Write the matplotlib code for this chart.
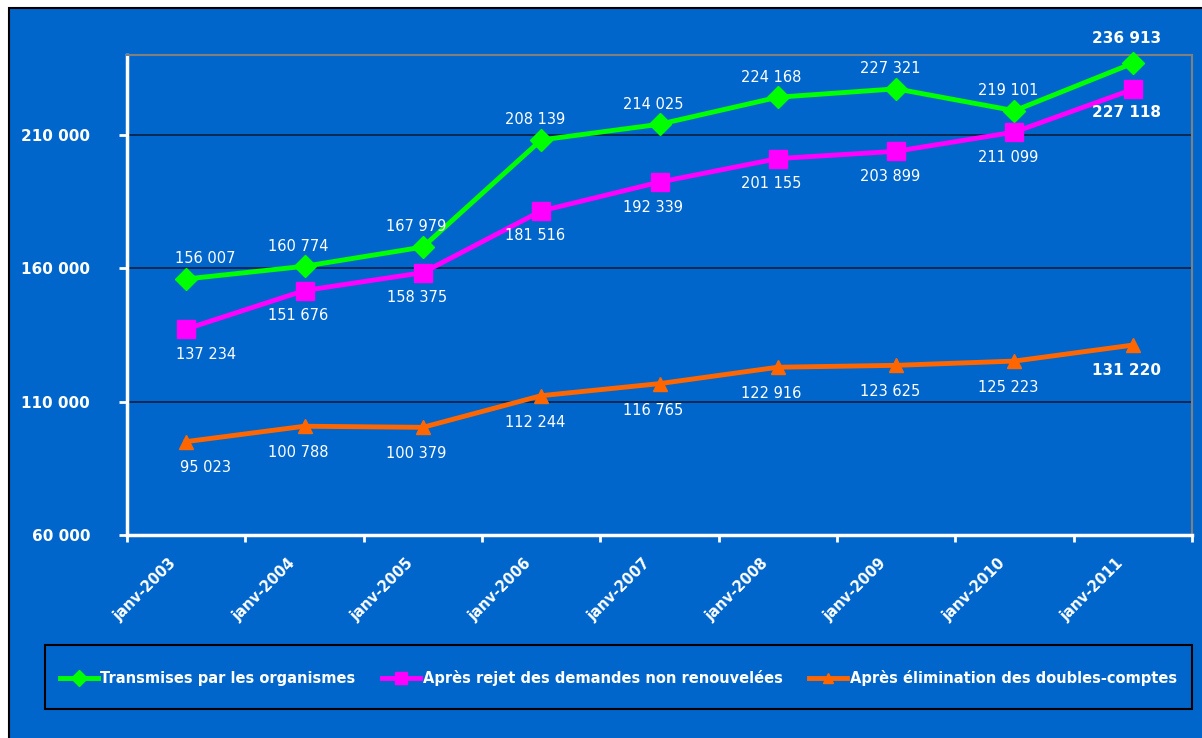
import matplotlib.pyplot as plt
from matplotlib.patches import Rectangle
from matplotlib.ticker import FixedLocator, FuncFormatter

categories = ["janv-2003", "janv-2004", "janv-2005", "janv-2006", "janv-2007",
              "janv-2008", "janv-2009", "janv-2010", "janv-2011"]
transmises = [156007, 160774, 167979, 208139, 214025, 224168, 227321, 219101, 236913]
apres_rejet = [137234, 151676, 158375, 181516, 192339, 201155, 203899, 211099, 227118]
apres_elim = [95023, 100788, 100379, 112244, 116765, 122916, 123625, 125223, 131220]
y_ticks = [60000, 110000, 160000, 210000]

BLUE = "#0066CC"
W, H = 1202, 738


def fmt(v):
    return f"{v:,}".replace(",", " ")


fig = plt.figure(figsize=(W / 100, H / 100), dpi=100, facecolor="white")
fig.patches.append(Rectangle((9 / W, -0.02), 1.0, 1.02 - 8 / H, transform=fig.transFigure,
                             facecolor=BLUE, edgecolor="black", linewidth=1.5, zorder=-10))
# legend frame
fig.patches.append(Rectangle((45 / W, 1 - 709 / H), (1192 - 45) / W, 64 / H,
                             transform=fig.transFigure, facecolor="none",
                             edgecolor="black", linewidth=1.5, zorder=-5))

ax = fig.add_axes([127 / W, 1 - 535 / H, (1192 - 127) / W, (535 - 55) / H])
ax.set_facecolor(BLUE)

x = list(range(len(categories)))
# values, colour, marker, size, label, vertical offset, offset of last label
series = [
    (transmises, "#00FF00", "D", 11, "Transmises par les organismes", 14.5, 18),
    (apres_rejet, "#FF00FF", "s", 12.5, "Après rejet des demandes non renouvelées", -18, -16.5),
    (apres_elim, "#FF6600", "^", 10.5, "Après élimination des doubles-comptes", -19, -18),
]
handles = []
for vals, col, mk, ms, lab, dy, dy_last in series:
    h, = ax.plot(x, vals, color=col, lw=3.5, marker=mk, ms=ms, label=lab,
                 markeredgecolor=col, zorder=3, clip_on=False)
    handles.append(h)
    for i, v in enumerate(vals):
        last = i == len(vals) - 1
        dx = 14 if i == 0 else -4.5
        ax.annotate(fmt(v), (i, v), xytext=(dx, dy_last if last else dy),
                    textcoords="offset points",
                    ha="center", va="center", color="white",
                    fontsize=11 if last else 10.5,
                    fontweight="bold" if last else "normal", zorder=4)

ax.set_xlim(-0.5, len(categories) - 0.5)
ax.set_ylim(60000, 240000)
ax.yaxis.set_major_locator(FixedLocator(y_ticks))
ax.yaxis.set_major_formatter(FuncFormatter(lambda v, p: fmt(int(v))))
ax.grid(axis="y", color="#0a1f40", lw=1.2)
ax.set_axisbelow(True)

ax.xaxis.set_major_locator(FixedLocator([i - 0.5 for i in range(len(categories) + 1)]))
ax.xaxis.set_major_formatter(FuncFormatter(lambda v, p: ""))
# labels sit slightly left of the category centre (invisible minor ticks)
ax.xaxis.set_minor_locator(FixedLocator([i - 0.1 for i in x]))
ax.set_xticklabels(categories, minor=True, rotation=45, ha="right", va="center",
                   rotation_mode="anchor", color="white", fontsize=10.5, fontweight="bold")
ax.tick_params(axis="x", which="minor", length=0, pad=19)
ax.tick_params(axis="x", which="major", length=5, width=2, color="white")
ax.tick_params(axis="y", length=6, width=2, color="white", labelcolor="white",
               labelsize=11, pad=20.5)
for t in ax.get_yticklabels():
    t.set_fontweight("bold")

for s in ("left", "bottom"):
    ax.spines[s].set_color("white")
    ax.spines[s].set_linewidth(2.5)
for s in ("top", "right"):
    ax.spines[s].set_color("#808080")
    ax.spines[s].set_linewidth(1.5)

leg = fig.legend(handles=handles, ncol=3, loc="center left",
                 bbox_to_anchor=(45 / W, 1 - 678 / H, (1192 - 45) / W, 0),
                 mode="expand", frameon=False, borderaxespad=0, borderpad=1.0,
                 handlelength=2.6, handletextpad=0.2,
                 prop={"weight": "bold", "size": 10.5}, markerscale=0.7)
for t in leg.get_texts():
    t.set_color("white")

fig.savefig("out.png", dpi=100, facecolor=fig.get_facecolor())
